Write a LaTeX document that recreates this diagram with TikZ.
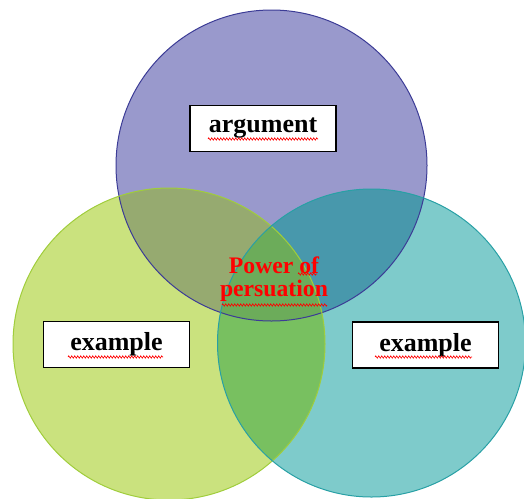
\documentclass[tikz,border=0pt]{standalone}
\usepackage{fontspec}
\setmainfont{Liberation Serif}
\usetikzlibrary{decorations.pathmorphing}
\definecolor{cP}{RGB}{153,153,204}
\definecolor{cG}{RGB}{202,226,126}
\definecolor{cT}{RGB}{126,203,203}
\definecolor{cPG}{RGB}{150,170,112}
\definecolor{cPT}{RGB}{72,152,172}
\definecolor{cGT}{RGB}{120,192,96}
\definecolor{cPGT}{RGB}{108,172,90}
\definecolor{eP}{RGB}{60,60,150}
\definecolor{eG}{RGB}{160,205,60}
\definecolor{eT}{RGB}{40,160,165}
\tikzset{
  labelbox/.style={draw=black, line width=1.5pt, fill=white, minimum width=146pt, minimum height=46pt, inner sep=0pt, font=\fontsize{26}{30}\selectfont\bfseries},
  spell/.style={draw=red, line width=0.6pt, decorate, decoration={zigzag, amplitude=1.2pt, segment length=3pt}},
  redtext/.style={text=red, font=\fontsize{23.7}{27}\selectfont\bfseries, align=center, inner sep=0pt}
}
\begin{document}
\begin{tikzpicture}[x=1pt,y=-1pt]
\useasboundingbox (0,0) rectangle (524,498);
\def\CP{(271.5,165.5) circle (155.5)}
\def\CG{(169,344) circle (156)}
\def\CT{(371.5,343) circle (154)}
\fill[cP] \CP;
\fill[cG] \CG;
\fill[cT] \CT;
\begin{scope}\clip \CP; \fill[cPG] \CG; \fill[cPT] \CT; \end{scope}
\begin{scope}\clip \CG; \fill[cGT] \CT; \end{scope}
\begin{scope}\clip \CP; \clip \CG; \fill[cPGT] \CT; \end{scope}
\draw[eP, line width=1pt] \CP;
\draw[eG, line width=1pt] \CG;
\draw[eT, line width=1pt] \CT;
\node[labelbox] (arg) at (263,128.5) {argument};
\node[labelbox] (ex1) at (116.5,344.5) {example};
\node[labelbox] (ex2) at (425.5,345) {example};
\node[redtext] (pow) at (274,265) {Power of};
\node[redtext] (per) at (274,291) {persuation};
\coordinate (u1a) at (208,139); \coordinate (u1b) at (318,139);
\coordinate (u2a) at (68,357); \coordinate (u2b) at (163,357);
\coordinate (u3a) at (375,357); \coordinate (u3b) at (472,357);
\coordinate (u4a) at (298,274); \coordinate (u4b) at (317,274);
\coordinate (u5a) at (222,305); \coordinate (u5b) at (327,305);
\draw[spell] (u1a) -- (u1b);
\draw[spell] (u2a) -- (u2b);
\draw[spell] (u3a) -- (u3b);
\draw[spell] (u4a) -- (u4b);
\draw[spell] (u5a) -- (u5b);
\end{tikzpicture}
\end{document}
